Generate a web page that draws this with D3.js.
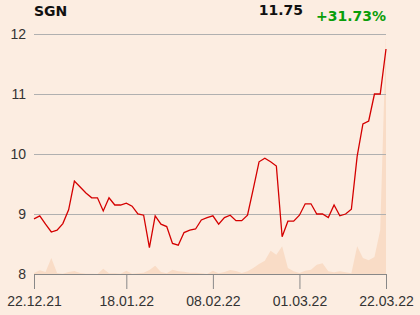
<!DOCTYPE html>
<html>
<head>
<meta charset="utf-8">
<script src="https://cdn.jsdelivr.net/npm/d3@7"></script>
<style>
  html, body { margin: 0; padding: 0; background: #fcede1; }
  svg { display: block; font-family: "DejaVu Sans", sans-serif; }
</style>
</head>
<body>
<svg id="chart" width="420" height="315"></svg>
<script>
// trading days (Warsaw)
const dates = [
    "22.12.21", "23.12.21", "27.12.21", "28.12.21", "29.12.21", "30.12.21",
    "03.01.22", "04.01.22", "05.01.22", "07.01.22", "10.01.22", "11.01.22", "12.01.22", "13.01.22", "14.01.22", "17.01.22", "18.01.22",
    "19.01.22", "20.01.22", "21.01.22", "24.01.22", "25.01.22", "26.01.22", "27.01.22", "28.01.22", "31.01.22",
    "01.02.22", "02.02.22", "03.02.22", "04.02.22", "07.02.22", "08.02.22",
    "09.02.22", "10.02.22", "11.02.22", "14.02.22", "15.02.22", "16.02.22", "17.02.22", "18.02.22", "21.02.22", "22.02.22", "23.02.22", "24.02.22", "25.02.22", "28.02.22",
    "01.03.22", "02.03.22", "03.03.22", "04.03.22", "07.03.22", "08.03.22", "09.03.22", "10.03.22", "11.03.22", "14.03.22", "15.03.22", "16.03.22", "17.03.22", "18.03.22", "21.03.22", "22.03.22"
];
const prices = [
    8.92, 8.97, 8.83, 8.70, 8.73, 8.84, 9.07, 9.55, 9.45, 9.35, 9.27, 9.27, 9.05, 9.27, 9.15, 9.15, 9.18,
    9.13, 9.00, 8.98, 8.44, 8.97, 8.83, 8.79, 8.51, 8.48, 8.69, 8.73, 8.75, 8.90, 8.94, 8.97,
    8.83, 8.94, 8.98, 8.89, 8.89, 8.98, 9.42, 9.87, 9.93, 9.87, 9.80, 8.62, 8.88, 8.88, 8.98,
    9.17, 9.17, 9.00, 9.00, 8.94, 9.15, 8.97, 9.00, 9.08, 9.96, 10.50, 10.55, 11.00, 11.00, 11.75
];
// volume, thousands of shares
const volumes = [
    1, 3.7, 2, 16, 1, 0.3, 2, 3, 1, 0.3, 0.3, 0, 5.3, 0.7, 0.7, 0.3, 3.3,
    0.3, 0.7, 1.3, 4, 8.3, 2, 0.7, 4.3, 2.7, 2.3, 1.3, 1.3, 0.7, 0, 3.3,
    0.7, 2, 4, 3, 1, 2.7, 6, 10, 13.3, 23.3, 19.3, 27.7, 6, 2.7, 1,
    3.3, 4.3, 9.3, 10.7, 2.7, 1.7, 2.7, 1.7, 0.7, 27.7, 16, 13.7, 17, 44, 240
];
const yTicks = [8, 9, 10, 11, 12];
const xTicks = ["22.12.21", "18.01.22", "08.02.22", "01.03.22", "22.03.22"];
const ticker = "SGN";
const lastPrice = "11.75";
const change = "+31.73%";

const margin = { top: 34, right: 34, bottom: 41, left: 34 };
const width = 420 - margin.left - margin.right;
const height = 315 - margin.top - margin.bottom;

const svg = d3.select("#chart");
const g = svg.append("g")
    .attr("transform", `translate(${margin.left}, ${margin.top})`);

const x = d3.scalePoint()
    .domain(dates)
    .range([0, width]);

const y = d3.scaleLinear()
    .domain([8, 12])
    .range([height, 0]);

const yVol = d3.scaleLinear()
    .domain([0, d3.max(volumes)])
    .range([height, 0]);

// volume area
g.append("path")
    .datum(volumes)
    .attr("fill", "#f9dcc6")
    .attr("d", d3.area()
        .x((d, i) => x(dates[i]))
        .y0(height)
        .y1(d => yVol(d)));

// gridlines + y labels
const yAxis = g.append("g")
    .call(d3.axisLeft(y).tickValues(yTicks).tickSize(-width).tickFormat(d3.format("d")));
yAxis.select(".domain").remove();
yAxis.selectAll(".tick line").attr("stroke", "#b0b0b0");
yAxis.selectAll(".tick text")
    .attr("x", -8)
    .attr("fill", "#333")
    .style("font-size", "14px");

// price line
g.append("path")
    .datum(prices)
    .attr("fill", "none")
    .attr("stroke", "#d40000")
    .attr("stroke-width", 1.3)
    .attr("d", d3.line()
        .x((d, i) => x(dates[i]))
        .y(d => y(d)));

// x axis
const xAxis = g.append("g")
    .attr("transform", `translate(0, ${height})`)
    .call(d3.axisBottom(x).tickValues(xTicks).tickSize(15).tickSizeOuter(0));
xAxis.select(".domain").attr("stroke", "#888");
xAxis.selectAll(".tick line").attr("stroke", "#888");
xAxis.selectAll(".tick text")
    .attr("y", 22)
    .attr("fill", "#333")
    .style("font-size", "14px");

// header
svg.append("text")
    .attr("x", 34).attr("y", 16)
    .style("font-size", "14px").style("font-weight", "bold")
    .attr("fill", "#111")
    .text(ticker);

svg.append("text")
    .attr("x", 303).attr("y", 15)
    .attr("text-anchor", "end")
    .style("font-size", "14px").style("font-weight", "bold")
    .attr("fill", "#111")
    .text(lastPrice);

svg.append("text")
    .attr("x", 386).attr("y", 21)
    .attr("text-anchor", "end")
    .style("font-size", "14px").style("font-weight", "bold")
    .attr("fill", "#0a9e0a")
    .text(change);
</script>
</body>
</html>
